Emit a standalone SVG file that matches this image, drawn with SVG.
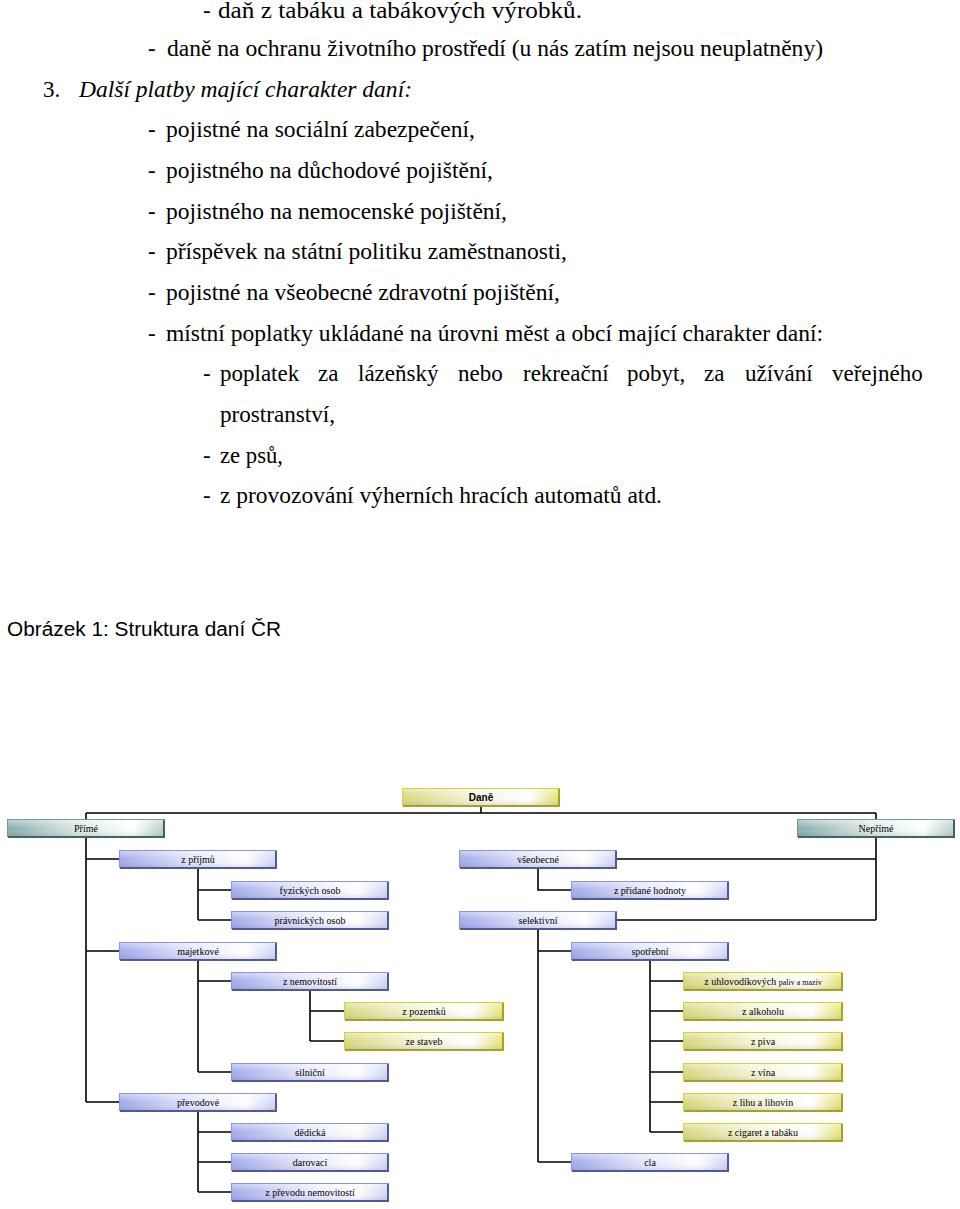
<svg xmlns="http://www.w3.org/2000/svg" width="960" height="1209" viewBox="0 0 960 1209">
<style>
.t{font-family:"Liberation Serif","Times New Roman",serif;font-size:23px;fill:#000}
.it{font-style:italic}
.cap{font-family:"Liberation Sans",Arial,sans-serif;font-size:20px;fill:#000}
.bt{font-family:"Liberation Serif","Times New Roman",serif;font-size:10px;fill:#000;text-anchor:middle}
.sm{font-size:8px}
.dt{font-family:"Liberation Sans",Arial,sans-serif;font-size:10px;font-weight:bold;fill:#000;text-anchor:middle}
.conn path{fill:none;stroke:#000;stroke-width:1.6}
.b rect.base{fill:url(#gB)}
.g rect.base{fill:url(#gG)}
.y rect.base{fill:url(#gY)}
rect.ov{fill:url(#gOv)}
.b rect.edge{fill:none;stroke:#8c94dc;stroke-width:1}
.g rect.edge{fill:none;stroke:#6f9c98;stroke-width:1}
.y rect.edge{fill:none;stroke:#d4d040;stroke-width:1}
.b path.sh{fill:none;stroke:#4e5b98;stroke-width:2}
.g path.sh{fill:none;stroke:#3f6662;stroke-width:2}
.y path.sh{fill:none;stroke:#a8a418;stroke-width:2}
</style>
<defs>
<linearGradient id="gB" x1="0" y1="0" x2="1" y2="0">
<stop offset="0" stop-color="#a2aaea"/><stop offset="0.45" stop-color="#e2e5fa"/><stop offset="0.8" stop-color="#ffffff"/><stop offset="1" stop-color="#cfd3f5"/>
</linearGradient>
<linearGradient id="gG" x1="0" y1="0" x2="1" y2="0">
<stop offset="0" stop-color="#88aeab"/><stop offset="0.45" stop-color="#dce8e7"/><stop offset="0.8" stop-color="#ffffff"/><stop offset="1" stop-color="#b4cdcb"/>
</linearGradient>
<linearGradient id="gY" x1="0" y1="0" x2="1" y2="0">
<stop offset="0" stop-color="#d8d880"/><stop offset="0.45" stop-color="#f4f4d8"/><stop offset="0.8" stop-color="#ffffff"/><stop offset="1" stop-color="#e4e070"/>
</linearGradient>
<linearGradient id="gOv" x1="0" y1="0" x2="0" y2="1">
<stop offset="0" stop-color="#ffffff" stop-opacity="0.5"/><stop offset="0.5" stop-color="#ffffff" stop-opacity="0"/><stop offset="1" stop-color="#000040" stop-opacity="0.12"/>
</linearGradient>
</defs>

<g id="text">
<text class="t" x="203" y="18">-</text><text class="t" x="218" y="18" textLength="364" lengthAdjust="spacingAndGlyphs">daň z tabáku a tabákových výrobků.</text>
<text class="t" x="148" y="56">-</text><text class="t" x="167" y="56" textLength="656" lengthAdjust="spacingAndGlyphs">daně na ochranu životního prostředí (u nás zatím nejsou neuplatněny)</text>
<text class="t" x="43" y="97">3.</text><text class="t it" x="79" y="97" textLength="333" lengthAdjust="spacingAndGlyphs">Další platby mající charakter daní:</text>
<text class="t" x="148" y="137">-</text><text class="t" x="166" y="137" textLength="309" lengthAdjust="spacingAndGlyphs">pojistné na sociální zabezpečení,</text>
<text class="t" x="148" y="178">-</text><text class="t" x="166" y="178" textLength="327" lengthAdjust="spacingAndGlyphs">pojistného na důchodové pojištění,</text>
<text class="t" x="148" y="219">-</text><text class="t" x="166" y="219" textLength="341" lengthAdjust="spacingAndGlyphs">pojistného na nemocenské pojištění,</text>
<text class="t" x="148" y="259">-</text><text class="t" x="166" y="259" textLength="401" lengthAdjust="spacingAndGlyphs">příspěvek na státní politiku zaměstnanosti,</text>
<text class="t" x="148" y="300">-</text><text class="t" x="166" y="300" textLength="394" lengthAdjust="spacingAndGlyphs">pojistné na všeobecné zdravotní pojištění,</text>
<text class="t" x="148" y="341">-</text><text class="t" x="166" y="341" textLength="657" lengthAdjust="spacingAndGlyphs">místní poplatky ukládané na úrovni měst a obcí mající charakter daní:</text>
<text class="t" x="203" y="381">-</text>
<text class="t" y="381"><tspan x="220">poplatek</tspan><tspan x="318">za</tspan><tspan x="358">lázeňský</tspan><tspan x="458">nebo</tspan><tspan x="523">rekreační</tspan><tspan x="627">pobyt,</tspan><tspan x="704">za</tspan><tspan x="745">užívání</tspan><tspan x="832">veřejného</tspan></text>
<text class="t" x="220" y="422" textLength="115" lengthAdjust="spacingAndGlyphs">prostranství,</text>
<text class="t" x="203" y="463">-</text><text class="t" x="220" y="463" textLength="63" lengthAdjust="spacingAndGlyphs">ze psů,</text>
<text class="t" x="203" y="503">-</text><text class="t" x="220" y="503" textLength="442" lengthAdjust="spacingAndGlyphs">z provozování výherních hracích automatů atd.</text>
<text class="cap" x="7" y="636" textLength="274" lengthAdjust="spacingAndGlyphs">Obrázek 1: Struktura daní ČR</text>
</g>

<g class="conn" id="connectors">
<path d="M481 806V813M86 813H876M86 813V1102M86 859H119M86 951H119M86 1102H119"/>
<path d="M876 813V920M876 859H617M876 920H617"/>
<path d="M198 868V920M198 890H231M198 920H231"/>
<path d="M538 868V890H571"/>
<path d="M538 929V1162M538 951H571M538 1162H571"/>
<path d="M198 960V1072M198 981H231M198 1072H231"/>
<path d="M310 989V1041M310 1011H344M310 1041H344"/>
<path d="M198 1111V1192M198 1132H231M198 1162H231M198 1192H231"/>
<path d="M650 960V1132M650 981H683M650 1011H683M650 1041H683M650 1072H683M650 1102H683M650 1132H683"/>
</g>

<g id="n-dane" class="y"><rect class="base" x="402" y="788" width="158" height="18"/><rect class="ov" x="402" y="788" width="158" height="18"/><rect class="edge" x="402.5" y="788.5" width="157" height="17"/><path class="sh" d="M559 789V806H403"/><text class="dt" x="481" y="801">Daně</text></g>
<g id="n-prime" class="g"><rect class="base" x="7" y="819" width="158" height="18"/><rect class="ov" x="7" y="819" width="158" height="18"/><rect class="edge" x="7.5" y="819.5" width="157" height="17"/><path class="sh" d="M164 820V837H8"/><text class="bt" x="86" y="832">Přímé</text></g>
<g id="n-neprime" class="g"><rect class="base" x="797" y="819" width="158" height="18"/><rect class="ov" x="797" y="819" width="158" height="18"/><rect class="edge" x="797.5" y="819.5" width="157" height="17"/><path class="sh" d="M954 820V837H798"/><text class="bt" x="876" y="832">Nepřímé</text></g>

<g id="n-zprijmu" class="b"><rect class="base" x="119" y="850" width="158" height="18"/><rect class="ov" x="119" y="850" width="158" height="18"/><rect class="edge" x="119.5" y="850.5" width="157" height="17"/><path class="sh" d="M276 851V868H120"/><text class="bt" x="198" y="863">z příjmů</text></g>
<g id="n-vseobecne" class="b"><rect class="base" x="459" y="850" width="158" height="18"/><rect class="ov" x="459" y="850" width="158" height="18"/><rect class="edge" x="459.5" y="850.5" width="157" height="17"/><path class="sh" d="M616 851V868H460"/><text class="bt" x="538" y="863">všeobecné</text></g>
<g id="n-fyzickych" class="b"><rect class="base" x="231" y="881" width="158" height="18"/><rect class="ov" x="231" y="881" width="158" height="18"/><rect class="edge" x="231.5" y="881.5" width="157" height="17"/><path class="sh" d="M388 882V899H232"/><text class="bt" x="310" y="894">fyzických osob</text></g>
<g id="n-dph" class="b"><rect class="base" x="571" y="881" width="158" height="18"/><rect class="ov" x="571" y="881" width="158" height="18"/><rect class="edge" x="571.5" y="881.5" width="157" height="17"/><path class="sh" d="M728 882V899H572"/><text class="bt" x="650" y="894">z přidané hodnoty</text></g>
<g id="n-pravnickych" class="b"><rect class="base" x="231" y="911" width="158" height="18"/><rect class="ov" x="231" y="911" width="158" height="18"/><rect class="edge" x="231.5" y="911.5" width="157" height="17"/><path class="sh" d="M388 912V929H232"/><text class="bt" x="310" y="924">právnických osob</text></g>
<g id="n-selektivni" class="b"><rect class="base" x="459" y="911" width="158" height="18"/><rect class="ov" x="459" y="911" width="158" height="18"/><rect class="edge" x="459.5" y="911.5" width="157" height="17"/><path class="sh" d="M616 912V929H460"/><text class="bt" x="538" y="924">selektivní</text></g>
<g id="n-majetkove" class="b"><rect class="base" x="119" y="942" width="158" height="18"/><rect class="ov" x="119" y="942" width="158" height="18"/><rect class="edge" x="119.5" y="942.5" width="157" height="17"/><path class="sh" d="M276 943V960H120"/><text class="bt" x="198" y="955">majetkové</text></g>
<g id="n-spotrebni" class="b"><rect class="base" x="571" y="942" width="158" height="18"/><rect class="ov" x="571" y="942" width="158" height="18"/><rect class="edge" x="571.5" y="942.5" width="157" height="17"/><path class="sh" d="M728 943V960H572"/><text class="bt" x="650" y="955">spotřební</text></g>
<g id="n-znemovitosti" class="b"><rect class="base" x="231" y="972" width="158" height="18"/><rect class="ov" x="231" y="972" width="158" height="18"/><rect class="edge" x="231.5" y="972.5" width="157" height="17"/><path class="sh" d="M388 973V990H232"/><text class="bt" x="310" y="985">z nemovitostí</text></g>
<g id="n-uhlovodik" class="y"><rect class="base" x="683" y="972" width="160" height="18"/><rect class="ov" x="683" y="972" width="160" height="18"/><rect class="edge" x="683.5" y="972.5" width="159" height="17"/><path class="sh" d="M842 973V990H684"/><text class="bt" x="763" y="985">z uhlovodíkových <tspan class="sm">paliv a maziv</tspan></text></g>
<g id="n-pozemku" class="y"><rect class="base" x="344" y="1002" width="160" height="18"/><rect class="ov" x="344" y="1002" width="160" height="18"/><rect class="edge" x="344.5" y="1002.5" width="159" height="17"/><path class="sh" d="M503 1003V1020H345"/><text class="bt" x="424" y="1015">z pozemků</text></g>
<g id="n-alkoholu" class="y"><rect class="base" x="683" y="1002" width="160" height="18"/><rect class="ov" x="683" y="1002" width="160" height="18"/><rect class="edge" x="683.5" y="1002.5" width="159" height="17"/><path class="sh" d="M842 1003V1020H684"/><text class="bt" x="763" y="1015">z alkoholu</text></g>
<g id="n-staveb" class="y"><rect class="base" x="344" y="1032" width="160" height="18"/><rect class="ov" x="344" y="1032" width="160" height="18"/><rect class="edge" x="344.5" y="1032.5" width="159" height="17"/><path class="sh" d="M503 1033V1050H345"/><text class="bt" x="424" y="1045">ze staveb</text></g>
<g id="n-piva" class="y"><rect class="base" x="683" y="1032" width="160" height="18"/><rect class="ov" x="683" y="1032" width="160" height="18"/><rect class="edge" x="683.5" y="1032.5" width="159" height="17"/><path class="sh" d="M842 1033V1050H684"/><text class="bt" x="763" y="1045">z piva</text></g>
<g id="n-silnicni" class="b"><rect class="base" x="231" y="1063" width="158" height="18"/><rect class="ov" x="231" y="1063" width="158" height="18"/><rect class="edge" x="231.5" y="1063.5" width="157" height="17"/><path class="sh" d="M388 1064V1081H232"/><text class="bt" x="310" y="1076">silniční</text></g>
<g id="n-vina" class="y"><rect class="base" x="683" y="1063" width="160" height="18"/><rect class="ov" x="683" y="1063" width="160" height="18"/><rect class="edge" x="683.5" y="1063.5" width="159" height="17"/><path class="sh" d="M842 1064V1081H684"/><text class="bt" x="763" y="1076">z vína</text></g>
<g id="n-prevodove" class="b"><rect class="base" x="119" y="1093" width="158" height="18"/><rect class="ov" x="119" y="1093" width="158" height="18"/><rect class="edge" x="119.5" y="1093.5" width="157" height="17"/><path class="sh" d="M276 1094V1111H120"/><text class="bt" x="198" y="1106">převodové</text></g>
<g id="n-lihu" class="y"><rect class="base" x="683" y="1093" width="160" height="18"/><rect class="ov" x="683" y="1093" width="160" height="18"/><rect class="edge" x="683.5" y="1093.5" width="159" height="17"/><path class="sh" d="M842 1094V1111H684"/><text class="bt" x="763" y="1106">z lihu a lihovin</text></g>
<g id="n-dedicka" class="b"><rect class="base" x="231" y="1123" width="158" height="18"/><rect class="ov" x="231" y="1123" width="158" height="18"/><rect class="edge" x="231.5" y="1123.5" width="157" height="17"/><path class="sh" d="M388 1124V1141H232"/><text class="bt" x="310" y="1136">dědická</text></g>
<g id="n-cigaret" class="y"><rect class="base" x="683" y="1123" width="160" height="18"/><rect class="ov" x="683" y="1123" width="160" height="18"/><rect class="edge" x="683.5" y="1123.5" width="159" height="17"/><path class="sh" d="M842 1124V1141H684"/><text class="bt" x="763" y="1136">z cigaret a tabáku</text></g>
<g id="n-darovaci" class="b"><rect class="base" x="231" y="1153" width="158" height="18"/><rect class="ov" x="231" y="1153" width="158" height="18"/><rect class="edge" x="231.5" y="1153.5" width="157" height="17"/><path class="sh" d="M388 1154V1171H232"/><text class="bt" x="310" y="1166">darovací</text></g>
<g id="n-cla" class="b"><rect class="base" x="571" y="1153" width="158" height="18"/><rect class="ov" x="571" y="1153" width="158" height="18"/><rect class="edge" x="571.5" y="1153.5" width="157" height="17"/><path class="sh" d="M728 1154V1171H572"/><text class="bt" x="650" y="1166">cla</text></g>
<g id="n-prevodnem" class="b"><rect class="base" x="231" y="1183" width="158" height="18"/><rect class="ov" x="231" y="1183" width="158" height="18"/><rect class="edge" x="231.5" y="1183.5" width="157" height="17"/><path class="sh" d="M388 1184V1201H232"/><text class="bt" x="310" y="1196">z převodu nemovitostí</text></g>
</svg>
